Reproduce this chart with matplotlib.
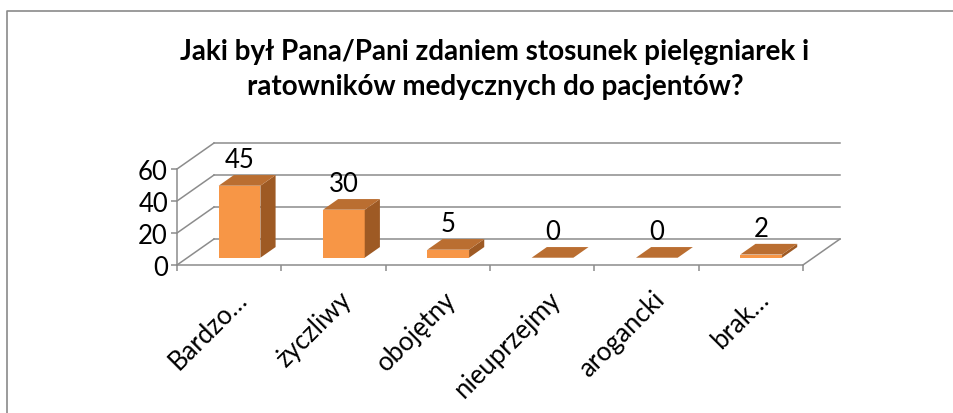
import matplotlib
matplotlib.use("Agg")
import matplotlib.pyplot as plt
from matplotlib.patches import Polygon
from matplotlib.lines import Line2D
from matplotlib.transforms import ScaledTranslation

plt.rcParams['font.family'] = ['Lato', 'DejaVu Sans']

title = "Jaki był Pana/Pani zdaniem stosunek pielęgniarek i\nratowników medycznych do pacjentów?"
categories = ["Bardzo…", "życzliwy", "obojętny", "nieuprzejmy", "arogancki", "brak…"]
values = [45, 30, 5, 0, 0, 2]
yticks = [0, 20, 40, 60]

FRONT = '#F79646'
TOP = '#BA6E31'
SIDE = '#9E5A24'
GRID = '#8C8C8C'
FS = 18.5

fig = plt.figure(figsize=(9.54, 4.14), dpi=100)
W, H = 954, 414
DX = 0.355   # depth shift in category units
DY = 16.25   # depth shift in value units
x0, x1 = 177, 840
y0, y1 = 266, 144
ax = fig.add_axes([x0 / W, 1 - y0 / H, (x1 - x0) / W, (y0 - y1) / H])
n = len(categories)
ax.set_xlim(-0.5, n - 0.5 + DX)
ax.set_ylim(0, yticks[-1] + DY)
ax.patch.set_visible(False)
for s in ['top', 'right']:
    ax.spines[s].set_visible(False)
for s in ['left', 'bottom']:
    ax.spines[s].set_color(GRID)
    ax.spines[s].set_linewidth(1.1)
ax.spines['left'].set_bounds(0, yticks[-1])
ax.spines['bottom'].set_bounds(-0.5, n - 0.5)

ax.set_yticks(yticks)
ax.set_yticklabels([str(t) for t in yticks], fontsize=FS)
ax.tick_params(axis='y', length=4.5, width=1.1, color=GRID, pad=2)

ax.set_xticks(range(n))
ax.set_xticklabels(categories, rotation=45, ha='right', va='top',
                   rotation_mode='anchor', fontsize=FS)
ax.set_xticks([i - 0.5 for i in range(n + 1)], minor=True)
ax.tick_params(axis='x', which='major', length=0, pad=15)
ax.tick_params(axis='x', which='minor', length=4.5, width=1.1, color=GRID)
for lab in ax.get_xticklabels():
    lab.set_transform(lab.get_transform() + ScaledTranslation(4 / 72, 0, fig.dpi_scale_trans))

for t in yticks:
    ax.plot([-0.5 + DX, n - 0.5 + DX], [t + DY, t + DY], color=GRID, lw=1.1,
            clip_on=False, zorder=1)
    ax.plot([-0.5, -0.5 + DX], [t, t + DY], color=GRID, lw=1.1, clip_on=False, zorder=1)
ax.plot([n - 0.5, n - 0.5 + DX], [0, DY], color=GRID, lw=1.1, clip_on=False, zorder=1)

f0, f1 = 0.28, 0.69
w = 0.40
for i, v in enumerate(values):
    xl = i - w / 2 + f0 * DX
    xr = i + w / 2 + f0 * DX
    yb = f0 * DY
    ddx = (f1 - f0) * DX
    ddy = (f1 - f0) * DY
    if v > 0:
        ax.add_patch(Polygon([(xl, yb), (xr, yb), (xr, yb + v), (xl, yb + v)],
                             closed=True, facecolor=FRONT, edgecolor='none', zorder=3, clip_on=False))
        ax.add_patch(Polygon([(xr, yb), (xr + ddx, yb + ddy), (xr + ddx, yb + ddy + v), (xr, yb + v)],
                             closed=True, facecolor=SIDE, edgecolor='none', zorder=3, clip_on=False))
    ax.add_patch(Polygon([(xl, yb + v), (xr, yb + v), (xr + ddx, yb + ddy + v), (xl + ddx, yb + ddy + v)],
                         closed=True, facecolor=TOP, edgecolor='none', zorder=4, clip_on=False))
    ax.annotate(str(v), xy=(i + f0 * DX, v + f1 * DY), xytext=(0, 11),
                textcoords='offset points', ha='center', va='center', fontsize=FS,
                annotation_clip=False, zorder=5)

fig.text(495 / W, 1 - 69.5 / H, title, ha='center', va='center', fontsize=20,
         fontweight='bold', linespacing=1.45)

fig.add_artist(Line2D([7.5 / W, 7.5 / W, 1.0], [0.0, 1 - 11.5 / H, 1 - 11.5 / H],
                      transform=fig.transFigure, color='#8A8A8A', lw=1.2))

fig.savefig('out.png', dpi=100)
